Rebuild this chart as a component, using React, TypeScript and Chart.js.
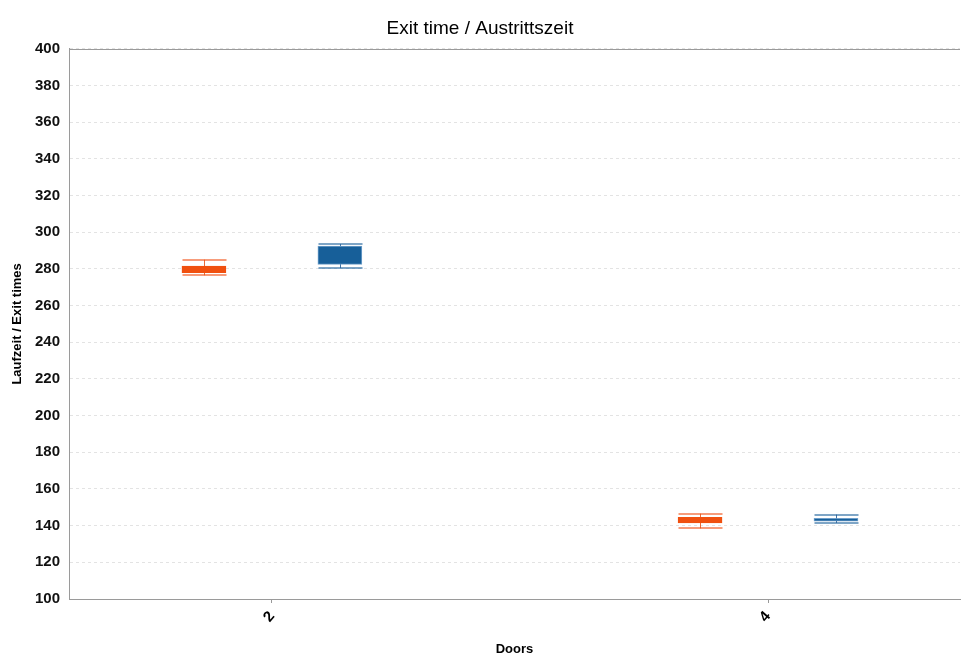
import React, { useEffect, useRef } from "react";
import { Chart, registerables } from "chart.js";
Chart.register(...registerables);

const categories = ["2", "4"];
const seriesNames = ["Series A", "Series B"];
// [min, q1, median, q3, max] per category
const orangeMin = [276.5, 138.5];
const orangeQ1 = [278.0, 141.5];
const orangeMedian = [280.0, 143.0];
const orangeQ3 = [281.5, 144.5];
const orangeMax = [285.0, 146.5];
const blueMin = [280.5, 141.5];
const blueQ1 = [282.5, 142.5];
const blueMedian = [287.5, 143.3];
const blueQ3 = [292.5, 144.0];
const blueMax = [293.5, 146.0];
const yTicks = [100, 120, 140, 160, 180, 200, 220, 240, 260, 280, 300, 320, 340, 360, 380, 400];

const OFFSET = 0.137;
const BOXW = 44;

const series = [
  { name: seriesNames[0], min: orangeMin, q1: orangeQ1, med: orangeMedian, q3: orangeQ3, max: orangeMax, off: -OFFSET, fill: "#f0500f", border: "#f0500f", whisker: "rgba(242,90,35,0.6)", stem: "rgba(230,80,20,0.85)" },
  { name: seriesNames[1], min: blueMin, q1: blueQ1, med: blueMedian, q3: blueQ3, max: blueMax, off: OFFSET, fill: "#175f99", border: "#6f9fcb", whisker: "rgba(40,105,160,0.6)", stem: "rgba(30,90,150,0.85)" },
];

const whiskerPlugin = {
  id: "whiskers",
  afterDatasetsDraw(chart: any) {
    const { ctx, scales, chartArea } = chart;
    const xs = scales.x, ys = scales.y;
    ctx.save();
    ctx.strokeStyle = "#9a9a9a";
    ctx.lineWidth = 1;
    ctx.beginPath();
    ctx.moveTo(chartArea.left, Math.round(chartArea.top) + 0.5);
    ctx.lineTo(chartArea.right, Math.round(chartArea.top) + 0.5);
    ctx.stroke();
    series.forEach((s) => {
      categories.forEach((_, i) => {
        const cx = Math.round(xs.getPixelForValue(i + s.off)) + 0.5;
        const yMin = ys.getPixelForValue(s.min[i]);
        const yMax = ys.getPixelForValue(s.max[i]);
        ctx.strokeStyle = s.whisker;
        ctx.lineWidth = 2;
        [yMin, yMax].forEach((y) => {
          ctx.beginPath();
          ctx.moveTo(cx - BOXW / 2, Math.round(y));
          ctx.lineTo(cx + BOXW / 2, Math.round(y));
          ctx.stroke();
        });
        ctx.strokeStyle = s.stem;
        ctx.lineWidth = 1;
        ctx.beginPath();
        ctx.moveTo(cx, yMax);
        ctx.lineTo(cx, ys.getPixelForValue(s.q3[i]));
        ctx.moveTo(cx, ys.getPixelForValue(s.q1[i]));
        ctx.lineTo(cx, yMin);
        ctx.stroke();
      });
    });
    ctx.restore();
  },
};

export default function App() {
  const ref = useRef<HTMLCanvasElement>(null);
  useEffect(() => {
    document.body.style.margin = "0";
    const chart = new Chart(ref.current!, {
      type: "bar",
      data: {
        datasets: series.map((s) => ({
          label: s.name,
          data: categories.map((_, i) => ({ x: i + s.off, y: [s.q1[i], s.q3[i]] })) as any,
          backgroundColor: s.fill,
          borderColor: s.border,
          borderWidth: 1,
          borderSkipped: false,
          barThickness: BOXW,
          grouped: false,
        })),
      },
      options: {
        animation: false,
        responsive: false,
        maintainAspectRatio: false,
        layout: { padding: { left: 0, right: 1, top: 0, bottom: 2 } },
        plugins: {
          legend: { display: false },
          tooltip: { enabled: false },
          title: {
            display: true,
            text: "Exit time / Austrittszeit",
            color: "#000",
            font: { family: "Liberation Sans", size: 19, weight: "normal" },
            padding: { top: 17, bottom: 9 },
          },
        },
        scales: {
          x: {
            type: "linear",
            offset: false,
            min: -0.409,
            max: 1.387,
            afterBuildTicks: (scale: any) => {
              scale.ticks = categories.map((_, i) => ({ value: i }));
            },
            afterFit: (scale: any) => {
              scale.height = 58;
            },
            ticks: {
              callback: (v: any) => categories[v] ?? "",
              minRotation: 50,
              maxRotation: 50,
              color: "#000",
              font: { family: "Liberation Sans", size: 15, weight: "bold" },
              padding: 5,
            },
            grid: { display: true, offset: false, drawOnChartArea: false, tickLength: 4, color: "#999" },
            border: { color: "#9a9a9a" },
            title: {
              display: true,
              text: "Doors",
              color: "#000",
              font: { family: "Liberation Sans", size: 13, weight: "bold" },
              padding: { top: 0, bottom: 0 },
            },
          },
          y: {
            min: 100,
            max: 400,
            afterBuildTicks: (scale: any) => {
              scale.ticks = yTicks.map((v) => ({ value: v }));
            },
            afterFit: (scale: any) => {
              scale.width = 69;
            },
            ticks: {
              color: "#111",
              font: { family: "Liberation Sans", size: 15, weight: "bold" },
              padding: 9,
            },
            grid: { color: "#e3e3e3", drawTicks: false, tickLength: 0 },
            border: { color: "#9a9a9a", dash: [3, 3] },
            title: {
              display: true,
              text: "Laufzeit / Exit times",
              color: "#000",
              font: { family: "Liberation Sans", size: 13, weight: "bold" },
              padding: { top: 10, bottom: 4 },
            },
          },
        },
      },
      plugins: [whiskerPlugin],
    } as any);
    return () => chart.destroy();
  }, []);
  return (
    <div style={{ position: "absolute", left: 0, top: 0, width: 961, height: 659 }}>
      <canvas ref={ref} width={961} height={659} style={{ width: 961, height: 659 }} />
    </div>
  );
}
